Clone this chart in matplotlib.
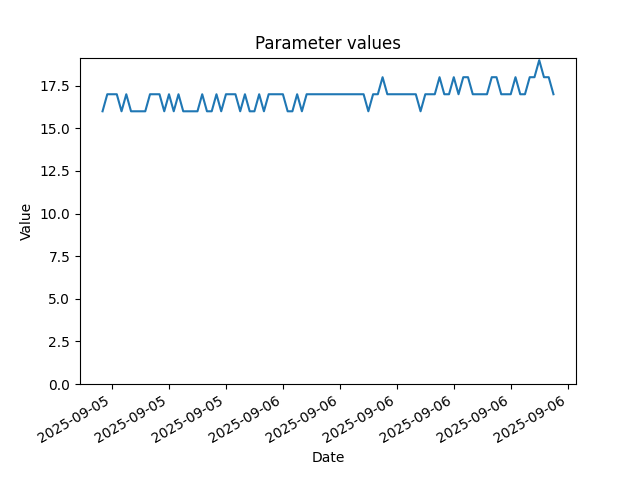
import matplotlib
matplotlib.use("Agg")
import matplotlib.pyplot as plt
import matplotlib.dates as mdates
import pandas as pd

# 15-minute readings
start_time = "2025-09-05 14:30"
values = [16, 17, 17, 17, 16, 17, 16, 16, 16, 16,
          17, 17, 17, 16, 17, 16, 17, 16, 16, 16,
          16, 17, 16, 16, 17, 16, 17, 17, 17, 16,
          17, 16, 16, 17, 16, 17, 17, 17, 17, 16,
          16, 17, 16, 17, 17, 17, 17, 17, 17, 17,
          17, 17, 17, 17, 17, 17, 16, 17, 17, 18,
          17, 17, 17, 17, 17, 17, 17, 16, 17, 17,
          17, 18, 17, 17, 18, 17, 18, 18, 17, 17,
          17, 17, 18, 18, 17, 17, 17, 18, 17, 17,
          18, 18, 19, 18, 18, 17]
dates = pd.date_range(start_time, periods=len(values), freq="15min")

fig, ax = plt.subplots(figsize=(6.4, 4.8), dpi=100)
ax.plot(dates, values)

ax.set_title("Parameter values")
ax.set_xlabel("Date")
ax.set_ylabel("Value")
ax.set_ylim(bottom=0)

ax.xaxis.set_major_locator(mdates.HourLocator(byhour=range(0, 24, 3)))
ax.xaxis.set_major_formatter(mdates.DateFormatter("%Y-%m-%d"))
fig.autofmt_xdate()

plt.savefig("out.png")
